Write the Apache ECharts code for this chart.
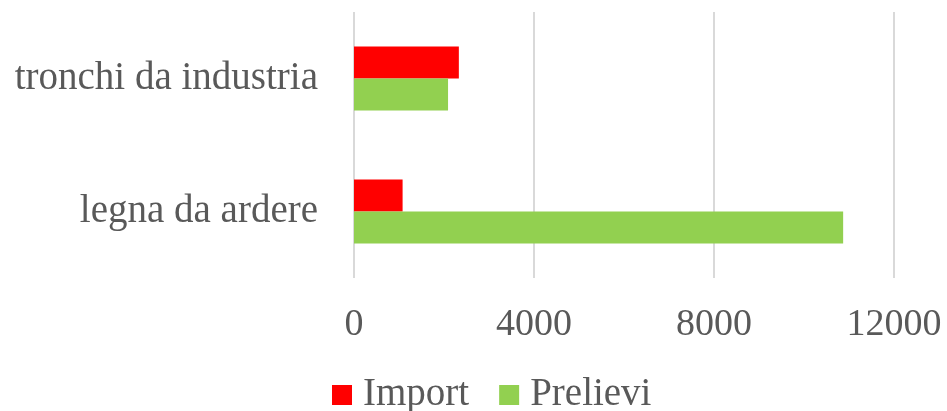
<!DOCTYPE html>
<html>
<head>
<meta charset="utf-8">
<script src="https://cdn.jsdelivr.net/npm/echarts@6/dist/echarts.min.js"></script>
<style>html,body{margin:0;padding:0;background:#fff;}#c{width:947px;height:411px;}</style>
</head>
<body>
<div id="c"></div>
<script>
const categories = ['legna da ardere', 'tronchi da industria'];
const importValues = [1080, 2330];
const prelieviValues = [10870, 2090];
const xTicks = [0, 4000, 8000, 12000];

const font = "'Liberation Serif', 'Times New Roman', serif";
const chart = echarts.init(document.getElementById('c'), null, {renderer: 'canvas'});
chart.setOption({
  animation: false,
  grid: {left: 354, right: 53, top: 12, bottom: 133, containLabel: false},
  legend: {
    data: ['Import', 'Prelievi'],
    top: 375,
    left: 332,
    padding: 0,
    itemWidth: 20, itemHeight: 20, itemGap: 30,
    icon: 'rect',
    textStyle: {fontFamily: font, fontSize: 39, lineHeight: 40, color: '#595959', padding: [0, 0, 0, 6]}
  },
  xAxis: {
    type: 'value', min: xTicks[0], max: xTicks[xTicks.length - 1], interval: 4000,
    axisLine: {show: false}, axisTick: {show: false},
    splitLine: {lineStyle: {color: '#d9d9d9', width: 2}},
    axisLabel: {fontFamily: font, fontSize: 38, color: '#595959', margin: 28, formatter: v => String(v)}
  },
  yAxis: {
    type: 'category', data: categories,
    axisLine: {show: false}, axisTick: {show: false},
    axisLabel: {fontFamily: font, fontSize: 39, color: '#595959', margin: 36}
  },
  series: [
    {name: 'Import', type: 'bar', data: importValues, barWidth: 32, barGap: '0%', itemStyle: {color: '#FF0000'}},
    {name: 'Prelievi', type: 'bar', data: prelieviValues, barWidth: 32, barGap: '0%', itemStyle: {color: '#92D050'}}
  ]
});
</script>
</body>
</html>
